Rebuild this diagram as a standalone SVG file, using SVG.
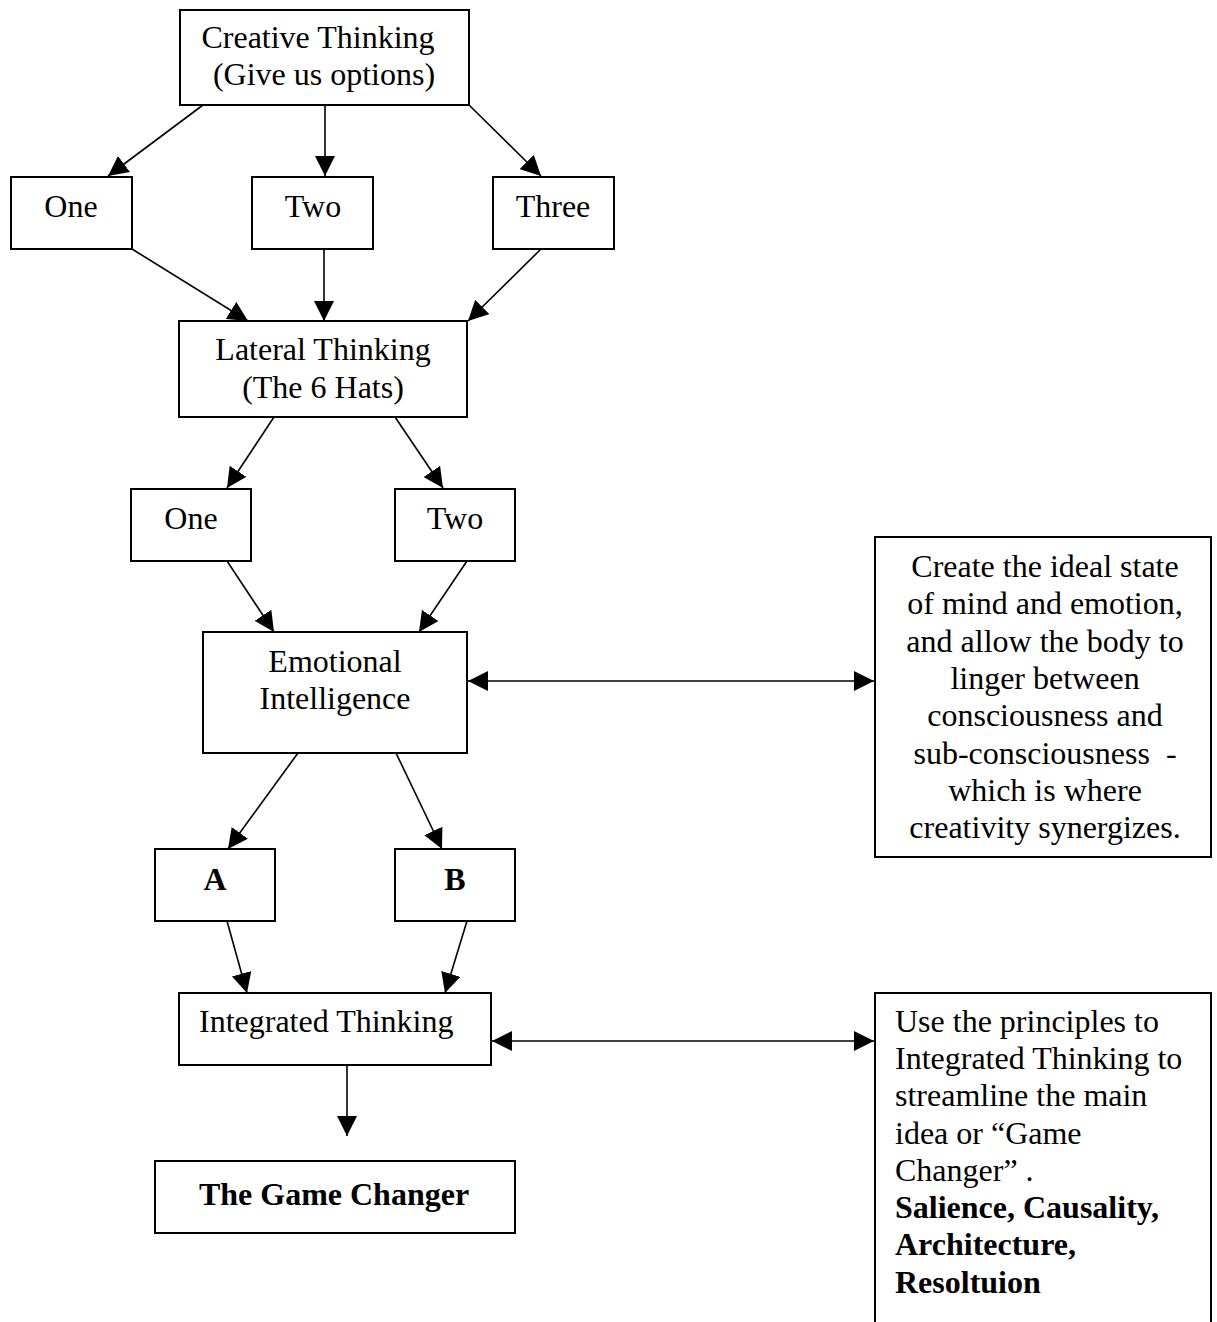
<svg xmlns="http://www.w3.org/2000/svg" width="1217" height="1322" viewBox="0 0 1217 1322">
<style>
.box{fill:#fff;stroke:#000;stroke-width:2}
.t{font-family:"Liberation Serif","Times New Roman",serif;font-size:32px;fill:#000}
.c{text-anchor:middle}
.b{font-weight:bold}
.e{fill:none;stroke:#000;stroke-width:1.6}
</style>
<defs>
<marker id="ah" markerUnits="userSpaceOnUse" markerWidth="20" markerHeight="20" viewBox="0 0 19 19" refX="19" refY="9.5" orient="auto-start-reverse">
<path d="M0,0 L19,9.5 L0,19 z" fill="#000"/>
</marker>
</defs>
<rect width="1217" height="1322" fill="#fff"/>
<g id="connectors">
<line class="e" x1="203" y1="105" x2="108" y2="176" marker-end="url(#ah)"/>
<line class="e" x1="325" y1="105" x2="325" y2="176" marker-end="url(#ah)"/>
<line class="e" x1="469" y1="105" x2="541" y2="176" marker-end="url(#ah)"/>
<line class="e" x1="132" y1="249" x2="248" y2="321" marker-end="url(#ah)"/>
<line class="e" x1="324" y1="249" x2="324" y2="321" marker-end="url(#ah)"/>
<line class="e" x1="541" y1="249" x2="468" y2="321" marker-end="url(#ah)"/>
<line class="e" x1="274" y1="417" x2="227" y2="488" marker-end="url(#ah)"/>
<line class="e" x1="395" y1="417" x2="443" y2="488" marker-end="url(#ah)"/>
<line class="e" x1="227" y1="561" x2="274" y2="632" marker-end="url(#ah)"/>
<line class="e" x1="467" y1="561" x2="419" y2="632" marker-end="url(#ah)"/>
<line class="e" x1="298" y1="753" x2="228" y2="849" marker-end="url(#ah)"/>
<line class="e" x1="396" y1="753" x2="442" y2="849" marker-end="url(#ah)"/>
<line class="e" x1="227" y1="921" x2="247" y2="993" marker-end="url(#ah)"/>
<line class="e" x1="467" y1="921" x2="445" y2="993" marker-end="url(#ah)"/>
<line class="e" x1="347" y1="1065" x2="347" y2="1136" marker-end="url(#ah)"/>
<line class="e" x1="468" y1="681" x2="874" y2="681" marker-start="url(#ah)" marker-end="url(#ah)"/>
<line class="e" x1="492" y1="1041" x2="874" y2="1041" marker-start="url(#ah)" marker-end="url(#ah)"/>
</g>
<g id="creative">
<rect class="box" x="180" y="10" width="289" height="95"/>
<text class="t c" x="318" y="48">Creative Thinking</text>
<text class="t c" x="324" y="85">(Give us options)</text>
</g>
<g id="one1">
<rect class="box" x="11" y="177" width="121" height="72"/>
<text class="t c" x="71" y="217">One</text>
</g>
<g id="two1">
<rect class="box" x="252" y="177" width="121" height="72"/>
<text class="t c" x="313" y="217">Two</text>
</g>
<g id="three1">
<rect class="box" x="493" y="177" width="121" height="72"/>
<text class="t c" x="553" y="217">Three</text>
</g>
<g id="lateral">
<rect class="box" x="179" y="321" width="288" height="96"/>
<text class="t c" x="323" y="360">Lateral Thinking</text>
<text class="t c" x="323" y="398">(The 6 Hats)</text>
</g>
<g id="one2">
<rect class="box" x="131" y="489" width="120" height="72"/>
<text class="t c" x="191" y="529">One</text>
</g>
<g id="two2">
<rect class="box" x="395" y="489" width="120" height="72"/>
<text class="t c" x="455" y="529">Two</text>
</g>
<g id="emotional">
<rect class="box" x="203" y="632" width="264" height="121"/>
<text class="t c" x="335" y="672">Emotional</text>
<text class="t c" x="335" y="709">Intelligence</text>
</g>
<g id="state">
<rect class="box" x="875" y="537" width="336" height="320"/>
<text class="t c" x="1045" y="577">Create the ideal state</text>
<text class="t c" x="1045" y="614">of mind and emotion,</text>
<text class="t c" x="1045" y="652">and allow the body to</text>
<text class="t c" x="1045" y="689">linger between</text>
<text class="t c" x="1045" y="726">consciousness and</text>
<text class="t c" x="1045" y="764" xml:space="preserve">sub-consciousness  -</text>
<text class="t c" x="1045" y="801">which is where</text>
<text class="t c" x="1045" y="838">creativity synergizes.</text>
</g>
<g id="a">
<rect class="box" x="155" y="849" width="120" height="72"/>
<text class="t c b" x="215" y="890">A</text>
</g>
<g id="b">
<rect class="box" x="395" y="849" width="120" height="72"/>
<text class="t c b" x="455" y="890">B</text>
</g>
<g id="integrated">
<rect class="box" x="179" y="993" width="312" height="72"/>
<text class="t" x="199" y="1032">Integrated Thinking</text>
</g>
<g id="principles">
<rect class="box" x="875" y="993" width="336" height="345"/>
<text class="t" x="895" y="1032">Use the principles to</text>
<text class="t" x="895" y="1069">Integrated Thinking to</text>
<text class="t" x="895" y="1106">streamline the main</text>
<text class="t" x="895" y="1144">idea or “Game</text>
<text class="t" x="895" y="1181">Changer” .</text>
<text class="t b" x="895" y="1218">Salience, Causality,</text>
<text class="t b" x="895" y="1255">Architecture,</text>
<text class="t b" x="895" y="1293">Resoltuion</text>
</g>
<g id="gamechanger">
<rect class="box" x="155" y="1161" width="360" height="72"/>
<text class="t c b" x="334" y="1205">The Game Changer</text>
</g>
</svg>
